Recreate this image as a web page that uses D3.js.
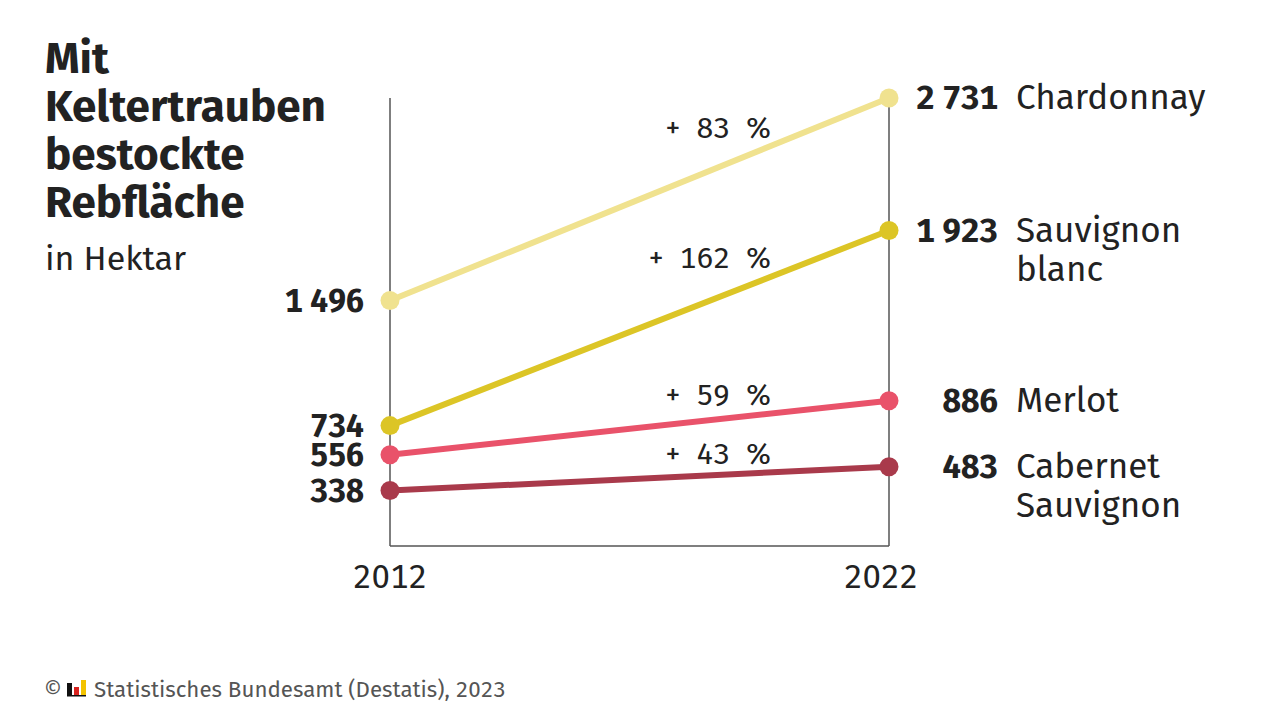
<!DOCTYPE html>
<html><head><meta charset="utf-8">
<script src="https://cdn.jsdelivr.net/npm/d3@7"></script>
<style>body{margin:0;background:#fff;} svg{display:block;font-family:"Fira Sans","Noto Sans","Open Sans",sans-serif;font-variant-numeric:tabular-nums;}</style>
</head><body>
<svg id="c" width="1280" height="720"></svg>
<script>
const years = [2012, 2022];
const seriesNames = [["Chardonnay"], ["Sauvignon", "blanc"], ["Merlot"], ["Cabernet", "Sauvignon"]];
const values2012 = [1496, 734, 556, 338];
const values2022 = [2731, 1923, 886, 483];
const changeLabels = ["+\u200283\u2002%", "+\u2002162\u2002%", "+\u200259\u2002%", "+\u200243\u2002%"];
const colors = ["#f0e28f", "#dcc526", "#e9526a", "#a93a4b"];
const titleLines = ["Mit", "Keltertrauben", "bestockte", "Rebfläche"];
const subtitle = "in Hektar";
const source = "Statistisches Bundesamt (Destatis), 2023";

const fmt = v => d3.format(",")(v).replace(/,/g, " ");
const svg = d3.select("#c");
const x = d3.scalePoint().domain(years).range([390, 889]);
const y = d3.scaleLinear().domain([0, 2731]).range([546, 98]);

// axes frame
const ax = svg.append("g").attr("stroke", "#555").attr("stroke-width", 1.5).attr("fill", "none");
years.forEach(yr => ax.append("line").attr("x1", x(yr)).attr("x2", x(yr)).attr("y1", y(2731)).attr("y2", y(0)));
ax.append("line").attr("x1", x(2012)).attr("x2", x(2022)).attr("y1", y(0)).attr("y2", y(0));

// year labels
svg.append("g").selectAll("text").data(years).join("text")
  .attr("x", (d, i) => x(d) + (i === 1 ? -8 : 0)).attr("y", 588)
  .attr("text-anchor", "middle").attr("font-size", 33).attr("fill", "#222").text(d => d);

const data = seriesNames.map((n, i) => ({name: n, a: values2012[i], b: values2022[i], c: colors[i], p: changeLabels[i]}));

// lines
const g = svg.append("g");
g.selectAll("line.s").data(data).join("line").attr("class", "s")
  .attr("x1", x(2012)).attr("x2", x(2022)).attr("y1", d => y(d.a)).attr("y2", d => y(d.b))
  .attr("stroke", d => d.c).attr("stroke-width", 6);
g.selectAll("circle.a").data(data).join("circle").attr("cx", x(2012)).attr("cy", d => y(d.a)).attr("r", 9.5).attr("fill", d => d.c);
g.selectAll("circle.b").data(data).join("circle").attr("cx", x(2022)).attr("cy", d => y(d.b)).attr("r", 9.5).attr("fill", d => d.c);

// left values
svg.append("g").selectAll("text").data(data).join("text")
  .attr("x", 364).attr("y", d => y(d.a) + 11).attr("text-anchor", "end")
  .attr("font-size", 32).attr("font-weight", 700).attr("fill", "#222").text(d => fmt(d.a));

// right values
svg.append("g").selectAll("text").data(data).join("text")
  .attr("x", 998).attr("y", d => y(d.b) + 11).attr("text-anchor", "end")
  .attr("font-size", 33).attr("font-weight", 700).attr("fill", "#222").text(d => fmt(d.b));

// names
const nm = svg.append("g").selectAll("text").data(data).join("text")
  .attr("x", 1016).attr("y", d => y(d.b) + 11).attr("font-size", 35).attr("fill", "#222");
nm.selectAll("tspan").data(d => d.name).join("tspan").attr("x", 1016).attr("dy", (d, i) => i ? 39 : 0).text(d => d);

// percent labels
const px = 772;
const t = (px - x(2012)) / (x(2022) - x(2012));
svg.append("g").selectAll("text").data(data).join("text")
  .attr("x", px).attr("y", d => y(d.a) + t * (y(d.b) - y(d.a)) - 8).attr("text-anchor", "end")
  .attr("font-size", 30).attr("fill", "#222").text(d => d.p);

// title
svg.append("g").selectAll("text").data(titleLines).join("text")
  .attr("x", 45).attr("y", (d, i) => 73 + i * 48).attr("font-size", 44).attr("font-weight", 700)
  .attr("fill", "#222").text(d => d);
svg.append("text").attr("x", 45).attr("y", 270).attr("font-size", 34).attr("fill", "#222").text(subtitle);

// footer
svg.append("text").attr("x", 44).attr("y", 697).attr("font-size", 22).attr("fill", "#555").text("©");
const lg = svg.append("g").attr("transform", "translate(67,680)");
[["#111", 0, 5, 13], ["#d9231f", 7, 5, 9], ["#f3c300", 14, 5, 16]].forEach(([c, dx, w, h]) =>
  lg.append("rect").attr("x", dx).attr("y", 16 - h).attr("width", w).attr("height", h).attr("fill", c));
lg.append("rect").attr("x", 0).attr("y", 15).attr("width", 19).attr("height", 1.5).attr("fill", "#111");
svg.append("text").attr("x", 94).attr("y", 697).attr("font-size", 22.3).attr("fill", "#555").text(source);
</script>
</body></html>
